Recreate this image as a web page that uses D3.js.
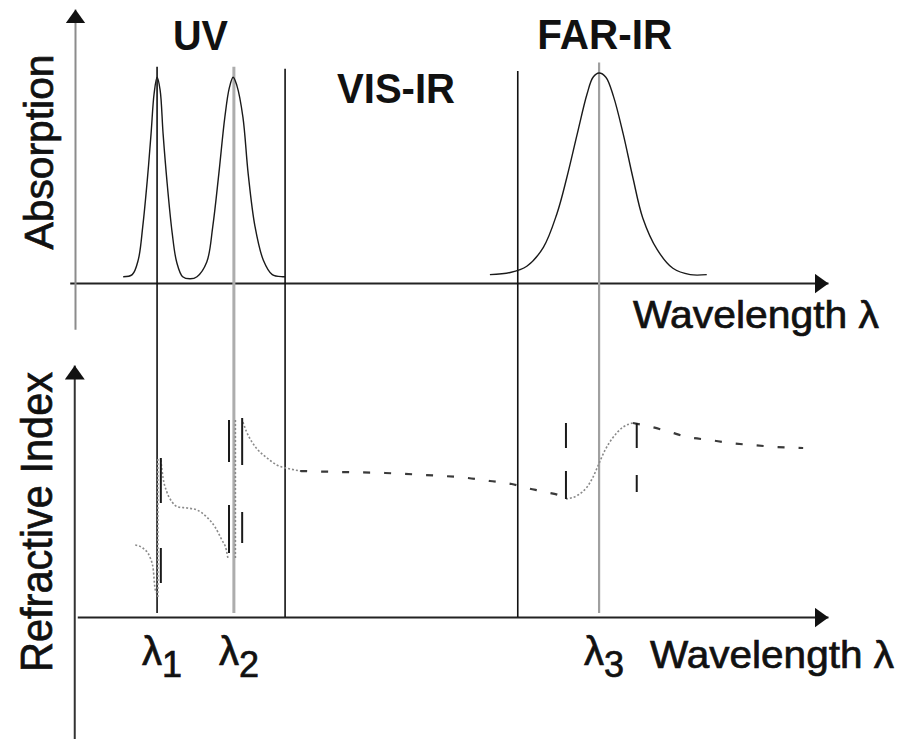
<!DOCTYPE html>
<html>
<head>
<meta charset="utf-8">
<script src="https://cdn.jsdelivr.net/npm/d3@7"></script>
<style>
  html, body { margin: 0; padding: 0; background: #fff; }
  svg { display: block; font-family: 'Liberation Sans', Arial, Helvetica, sans-serif; }
  .heavy { stroke: #111; stroke-width: 0.7; }
</style>
</head>
<body>
<div id="chart"></div>
<script>
// wavelength in arbitrary units along the axis (0..100)
// absorption and refractive index in arbitrary units (0..1)

const bandNames = ['UV', 'VIS-IR', 'FAR-IR'];
const resonances = [10.9, 21.1, 69.6];
const resonanceTops = [1.03, 1.03, 1.05];
const bandEdges = [27.9, 58.8];
const bandEdgeTops = [1.02, 1.01];
const resonanceLabels = ['1', '2', '3'];

const uvAbsorption = [
  [6.4, 0.03], [7.6, 0.04], [8.4, 0.11], [9.0, 0.27], [9.6, 0.49], [10.1, 0.71],
  [10.5, 0.90], [10.9, 0.98], [11.3, 0.92], [11.7, 0.71], [12.2, 0.49], [12.9, 0.24],
  [13.5, 0.10], [14.3, 0.03], [15.3, 0.02], [16.2, 0.03], [17.5, 0.10], [18.3, 0.27],
  [19.1, 0.52], [19.9, 0.79], [20.5, 0.93], [21.0, 0.98], [21.5, 0.94], [22.3, 0.79],
  [23.0, 0.52], [23.9, 0.27], [25.0, 0.11], [26.2, 0.04], [27.6, 0.03], [27.9, 0.03],
];

const farIrAbsorption = [
  [55.1, 0.04], [57.8, 0.05], [60.0, 0.08], [62.2, 0.17], [64.0, 0.33], [65.3, 0.50],
  [66.7, 0.71], [68.0, 0.90], [68.8, 0.98], [69.6, 1.0], [70.5, 0.98], [71.5, 0.89],
  [72.8, 0.71], [74.1, 0.50], [75.4, 0.31], [77.3, 0.16], [79.4, 0.07], [81.7, 0.04],
  [83.9, 0.04],
];

// refractive index, pieces of one dispersion curve
const indexBelowUv1 = [[8.0, 0.36], [9.0, 0.345], [10.0, 0.295], [10.4, 0.235], [10.6, 0.15], [10.8, 0.12]];
const indexJumpUv1 = [[11.0, 0.10], [11.0, 0.795]];
const indexBetweenUv = [
  [11.4, 0.785], [11.7, 0.695], [12.2, 0.625], [12.9, 0.575], [13.7, 0.55], [14.9, 0.545],
  [16.2, 0.535], [17.5, 0.50], [18.6, 0.45], [19.5, 0.385], [20.1, 0.335], [20.3, 0.295],
];
const indexJumpUv2 = [[21.3, 0.295], [21.3, 0.985]];
const indexAboveUv2 = [
  [22.3, 0.975], [22.8, 0.925], [23.5, 0.875], [24.3, 0.835], [25.5, 0.795], [26.8, 0.76],
  [28.6, 0.74], [29.9, 0.73],
];
const indexVisIr = [
  [29.9, 0.73], [35.2, 0.725], [41.2, 0.72], [46.5, 0.71], [52.2, 0.695], [55.1, 0.68],
  [58.0, 0.665], [60.0, 0.645], [62.4, 0.625], [64.8, 0.60], [65.2, 0.59],
];
const indexFarIrRise = [
  [65.2, 0.59], [66.8, 0.61], [68.0, 0.65], [68.8, 0.70], [69.5, 0.76], [70.4, 0.835],
  [71.4, 0.895], [72.8, 0.95], [74.1, 0.97],
];
const indexFarIrTail = [
  [74.1, 0.97], [76.6, 0.95], [79.0, 0.925], [81.3, 0.90], [84.3, 0.885], [87.0, 0.87],
  [89.9, 0.86], [93.2, 0.85], [96.7, 0.845],
];

// short black bars drawn beside the resonances [wavelength, index from, index to]
const indexBars = [
  [11.4, 0.17, 0.345], [11.4, 0.57, 0.795], [20.45, 0.775, 0.985], [20.45, 0.32, 0.56],
  [22.2, 0.76, 0.995], [22.2, 0.37, 0.525], [65.2, 0.845, 0.97], [65.2, 0.59, 0.73],
  [74.6, 0.845, 0.97], [74.6, 0.625, 0.71],
];

const width = 900;
const height = 739;

const x = d3.scaleLinear().domain([0, 100]).range([75, 828]);
const yAbs = d3.scaleLinear().domain([0, 1]).range([283, 73]);
const yIdx = d3.scaleLinear().domain([0, 1]).range([617, 417]);

const svg = d3.select('#chart').append('svg')
  .attr('width', width)
  .attr('height', height);

svg.append('defs').append('marker')
  .attr('id', 'arrow')
  .attr('viewBox', '0 -10 14 20')
  .attr('refX', 14)
  .attr('refY', 0)
  .attr('markerUnits', 'userSpaceOnUse')
  .attr('markerWidth', 14)
  .attr('markerHeight', 20)
  .attr('orient', 'auto')
  .append('path')
  .attr('d', 'M0,-10L14,0L0,10Z')
  .attr('fill', '#111');

// axes: plain lines without ticks, arrow at the far end
function axisLine(g, color) {
  g.select('.domain')
    .attr('stroke', color)
    .attr('stroke-width', 2)
    .attr('marker-end', 'url(#arrow)');
}

const xAxisScale = d3.scaleLinear().domain([-0.7, 100]).range([x(-0.7), x(100)]);
const xAxisScaleLow = d3.scaleLinear().domain([0.3, 100]).range([x(0.3), x(100)]);
const absAxisScale = d3.scaleLinear().domain([-0.22, 1.305]).range([yAbs(-0.22), yAbs(1.305)]);
const idxAxisScale = d3.scaleLinear().domain([-0.61, 1.26]).range([yIdx(-0.61), yIdx(1.26)]);

svg.append('g')
  .attr('transform', `translate(0,${yAbs(0)})`)
  .call(d3.axisBottom(xAxisScale).tickValues([]).tickSizeOuter(0))
  .call(axisLine, '#222');

svg.append('g')
  .attr('transform', `translate(${x(0)},0)`)
  .call(d3.axisLeft(absAxisScale).tickValues([]).tickSizeOuter(0))
  .call(axisLine, '#8c8c8c');

svg.append('g')
  .attr('transform', `translate(0,${yIdx(0)})`)
  .call(d3.axisBottom(xAxisScaleLow).tickValues([]).tickSizeOuter(0))
  .call(axisLine, '#222');

svg.append('g')
  .attr('transform', `translate(${x(-0.1)},0)`)
  .call(d3.axisLeft(idxAxisScale).tickValues([]).tickSizeOuter(0))
  .call(axisLine, '#333');

// vertical guides through both panels
svg.selectAll('.edge')
  .data(bandEdges)
  .enter().append('line')
  .attr('class', 'edge')
  .attr('x1', d => x(d)).attr('x2', d => x(d))
  .attr('y1', (d, i) => yAbs(bandEdgeTops[i]))
  .attr('y2', yIdx(0))
  .attr('stroke', '#111')
  .attr('stroke-width', 1.6);

const resonanceColor = ['#111', '#adadad', '#a0a0a0'];
const resonanceWidth = [1.6, 3, 2.2];
svg.selectAll('.resonance')
  .data(resonances)
  .enter().append('line')
  .attr('class', 'resonance')
  .attr('x1', d => x(d)).attr('x2', d => x(d))
  .attr('y1', (d, i) => yAbs(resonanceTops[i]))
  .attr('y2', yIdx(0.02))
  .attr('stroke', (d, i) => resonanceColor[i])
  .attr('stroke-width', (d, i) => resonanceWidth[i]);

// absorption peaks
const absLine = d3.line()
  .x(d => x(d[0]))
  .y(d => yAbs(d[1]))
  .curve(d3.curveCatmullRom.alpha(0.5));

[uvAbsorption, farIrAbsorption].forEach((series) => {
  svg.append('path')
    .datum(series)
    .attr('d', absLine)
    .attr('fill', 'none')
    .attr('stroke', '#1a1a1a')
    .attr('stroke-width', 1.4);
});

// refractive index
const idxCurve = d3.line()
  .x(d => x(d[0]))
  .y(d => yIdx(d[1]))
  .curve(d3.curveMonotoneX);
const idxStraight = d3.line()
  .x(d => x(d[0]))
  .y(d => yIdx(d[1]));

const dotted = { stroke: '#8a8a8a', width: 1.6, dash: '2,2' };
const dashed = { stroke: '#3a3a3a', width: 2.2, dash: '7,14' };
const pieces = [
  [indexBelowUv1, idxCurve, dotted],
  [indexJumpUv1, idxStraight, dotted],
  [indexBetweenUv, idxCurve, dotted],
  [indexJumpUv2, idxStraight, dotted],
  [indexAboveUv2, idxCurve, dotted],
  [indexVisIr, idxCurve, dashed],
  [indexFarIrRise, idxCurve, dotted],
  [indexFarIrTail, idxCurve, dashed],
];

pieces.forEach(([series, gen, st]) => {
  svg.append('path')
    .datum(series)
    .attr('d', gen)
    .attr('fill', 'none')
    .attr('stroke', st.stroke)
    .attr('stroke-width', st.width)
    .attr('stroke-dasharray', st.dash);
});

svg.selectAll('.bar')
  .data(indexBars)
  .enter().append('line')
  .attr('class', 'bar')
  .attr('x1', d => x(d[0])).attr('x2', d => x(d[0]))
  .attr('y1', d => yIdx(d[1]))
  .attr('y2', d => yIdx(d[2]))
  .attr('stroke', '#1a1a1a')
  .attr('stroke-width', 2);

// band titles
const bandTitlePos = [[13.0, 50, 55], [34.8, 103, 118], [61.4, 49, 135]];
svg.selectAll('.band')
  .data(bandNames)
  .enter().append('text')
  .attr('class', 'band')
  .attr('x', (d, i) => x(bandTitlePos[i][0]))
  .attr('y', (d, i) => bandTitlePos[i][1])
  .attr('textLength', (d, i) => bandTitlePos[i][2])
  .attr('lengthAdjust', 'spacingAndGlyphs')
  .attr('font-size', 42)
  .attr('font-weight', 'bold')
  .attr('fill', '#111')
  .text(d => d);

// axis titles
svg.append('text')
  .attr('class', 'heavy')
  .attr('transform', 'translate(53,152) rotate(-90)')
  .attr('text-anchor', 'middle')
  .attr('font-size', 40)
  .attr('textLength', 195)
  .attr('lengthAdjust', 'spacingAndGlyphs')
  .attr('fill', '#111')
  .text('Absorption');

svg.append('text')
  .attr('class', 'heavy')
  .attr('transform', 'translate(52,522) rotate(-90)')
  .attr('text-anchor', 'middle')
  .attr('font-size', 44)
  .attr('textLength', 300)
  .attr('lengthAdjust', 'spacingAndGlyphs')
  .attr('fill', '#111')
  .text('Refractive Index');

svg.append('text')
  .attr('class', 'heavy')
  .attr('x', 633).attr('y', 328)
  .attr('font-size', 39)
  .attr('textLength', 246)
  .attr('lengthAdjust', 'spacingAndGlyphs')
  .attr('fill', '#111')
  .text('Wavelength λ');

svg.append('text')
  .attr('class', 'heavy')
  .attr('x', 650).attr('y', 668)
  .attr('font-size', 39)
  .attr('textLength', 244)
  .attr('lengthAdjust', 'spacingAndGlyphs')
  .attr('fill', '#111')
  .text('Wavelength λ');

// resonance labels under the lower axis
const lambdaLabels = svg.selectAll('.lambda')
  .data(resonances)
  .enter().append('text')
  .attr('class', 'lambda heavy')
  .attr('x', d => x(d) - 15)
  .attr('y', 665)
  .attr('font-size', 40)
  .attr('fill', '#111');
lambdaLabels.append('tspan').text('λ');
lambdaLabels.append('tspan')
  .attr('dy', 12)
  .attr('font-size', 36)
  .text((d, i) => resonanceLabels[i]);
</script>
</body>
</html>
